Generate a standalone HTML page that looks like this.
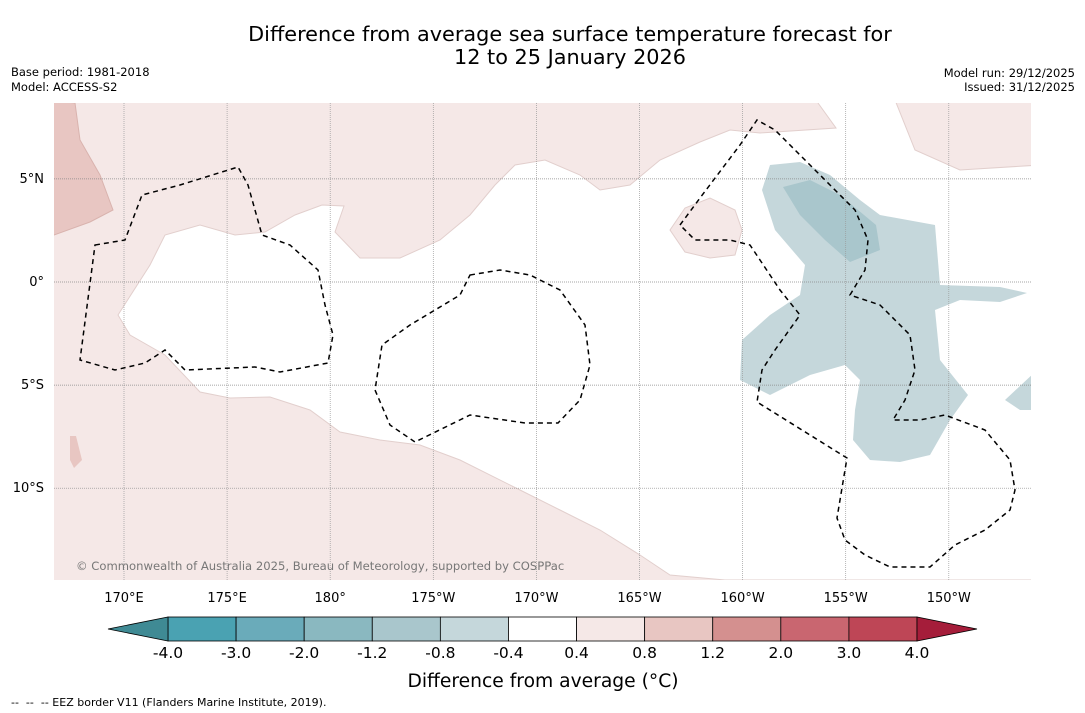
<!DOCTYPE html>
<html><head><meta charset="utf-8"><style>
body{margin:0;background:#fff;width:1085px;height:713px;overflow:hidden;font-family:"Liberation Sans","DejaVu Sans",sans-serif}
svg{position:absolute;left:0;top:0}
</style></head><body>
<svg width="1085" height="713" xmlns="http://www.w3.org/2000/svg" font-family="DejaVu Sans, Liberation Sans, sans-serif">
<text x="570" y="41" text-anchor="middle" font-size="20.8">Difference from average sea surface temperature forecast for</text>
<text x="570" y="64" text-anchor="middle" font-size="20.8">12 to 25 January 2026</text>
<text x="11" y="76" font-size="11.5">Base period: 1981-2018</text>
<text x="11" y="91" font-size="11.5">Model: ACCESS-S2</text>
<text x="1075" y="77" font-size="11.5" text-anchor="end">Model run: 29/12/2025</text>
<text x="1075" y="91" font-size="11.5" text-anchor="end">Issued: 31/12/2025</text>
<defs><clipPath id="mc"><rect x="54" y="103" width="977" height="477"/></clipPath></defs>
<g id="map" clip-path="url(#mc)"></g>
<g id="axes"></g>
<g id="cbar"></g>
<text x="543" y="687" text-anchor="middle" font-size="18.7">Difference from average (°C)</text>
<text x="11" y="706" font-size="11" style="white-space:pre">--  --  -- EEZ border V11 (Flanders Marine Institute, 2019).</text>
</svg>
<script>
const lonTicks=[170,175,180,185,190,195,200,205,210];
const lonLabels=["170°E","175°E","180°","175°W","170°W","165°W","160°W","155°W","150°W"];
const latTicks=[5,0,-5,-10];
const latLabels=["5°N","0°","5°S","10°S"];
const levels=["-4.0","-3.0","-2.0","-1.2","-0.8","-0.4","0.4","0.8","1.2","2.0","3.0","4.0"];
const levelColors=["#4aa2b2","#6aabba","#8ab8c0","#a9c6cc","#c5d7db","#ffffff","#f5e8e7","#e8c6c2","#d4908f","#c96670","#be4656"];
const NS="http://www.w3.org/2000/svg";
const X=lon=>124+(lon-170)*20.62, Y=lat=>282-lat*20.62;
const IX=px=>170+(px-124)/20.62, IY=py=>(282-py)/20.62;
const P=a=>a.map(([x,y])=>[IX(x),IY(y)]);
const whiteArea=P([[818,103],[836,128],[760,133],[730,130],[700,142],[660,160],[630,185],[600,190],[580,175],[545,160],[515,165],[495,185],[470,215],[440,240],[400,258],[360,258],[335,232],[344,206],[322,205],[295,215],[265,232],[235,235],[200,225],[165,235],[150,265],[118,315],[130,335],[165,355],[200,392],[230,398],[270,397],[310,410],[340,432],[380,440],[420,445],[460,460],[520,490],[560,510],[600,530],[640,555],[670,575],[725,580],[1040,580],[1040,165],[960,170],[915,150],[895,100],[818,100]]);
const pinkBlob=P([[670,230],[685,208],[710,198],[735,210],[742,230],[735,255],[710,258],[685,252]]);
const darkPink1=P([[50,100],[75,103],[80,140],[100,175],[113,210],[90,222],[54,235],[50,235]]);
const darkPink2=P([[70,436],[76,436],[82,460],[74,468],[70,460]]);
const blue1=P([[770,165],[800,162],[830,175],[860,200],[880,215],[935,225],[940,285],[1000,287],[1027,293],[1000,302],[960,300],[935,310],[940,360],[968,395],[950,420],[930,455],[900,462],[870,460],[853,440],[855,410],[860,380],[845,365],[810,375],[770,395],[740,380],[742,340],[770,315],[800,295],[805,265],[775,230],[762,190]]);
const blue2=P([[783,187],[810,180],[840,195],[876,225],[880,250],[850,262],[825,240],[800,215]]);
const blue3=P([[1035,372],[1005,400],[1020,410],[1035,410]]);
const eez1=P([[95,245],[125,240],[142,195],[180,185],[238,167],[248,185],[262,235],[290,245],[318,270],[325,305],[333,335],[328,363],[280,372],[255,367],[185,370],[165,350],[145,363],[115,370],[80,360],[95,245]]);
const eez2=P([[470,275],[500,270],[530,275],[560,290],[585,325],[590,365],[580,400],[558,423],[525,423],[470,415],[415,442],[390,425],[375,390],[382,345],[410,325],[460,295],[470,275]]);
const eez3=P([[680,225],[700,198],[740,145],[757,120],[775,130],[800,155],[830,185],[855,210],[868,240],[865,270],[850,295],[880,305],[910,335],[915,370],[905,400],[893,420],[920,420],[945,415],[985,430],[1010,460],[1015,490],[1010,510],[985,530],[955,545],[930,567],[890,567],[865,555],[845,540],[837,518],[847,458],[757,402],[762,370],[775,350],[800,315],[780,290],[760,260],[750,245],[730,240],[695,240],[680,225]]);
const map=document.getElementById('map');
function poly(pts,fill,stroke,name,dash){const p=document.createElementNS(NS,'polygon');
p.setAttribute('points',pts.map(([a,b])=>X(a).toFixed(1)+','+Y(b).toFixed(1)).join(' '));
p.setAttribute('fill',fill);p.setAttribute('stroke',stroke||'none');if(dash){p.setAttribute('stroke-dasharray',dash);p.setAttribute('stroke-width','1.5');}


map.appendChild(p);}
const bg=document.createElementNS(NS,'rect');bg.setAttribute('x',54);bg.setAttribute('y',103);bg.setAttribute('width',977);bg.setAttribute('height',477);bg.setAttribute('fill','#f5e8e7');


map.appendChild(bg);
poly(whiteArea,'#ffffff','#e2cfcd','neutral-anomaly-region');
poly(pinkBlob,'#f5e8e7','#e2cfcd','warm-anomaly-blob');
poly(darkPink1,'#e8c6c2','#d9b3ae','strong-warm-region');
poly(darkPink2,'#e8c6c2','none','strong-warm-spot');
poly(blue1,'#c5d7db','none','cool-anomaly-region');
poly(blue2,'#a9c6cc','none','stronger-cool-region');
poly(blue3,'#c5d7db','none','cool-anomaly-edge');
lonTicks.forEach(l=>{const g=document.createElementNS(NS,'line');g.setAttribute('x1',X(l));g.setAttribute('x2',X(l));g.setAttribute('y1',103);g.setAttribute('y2',580);g.setAttribute('stroke','#999');g.setAttribute('stroke-width','0.7');g.setAttribute('stroke-dasharray','1 1');


map.appendChild(g);});
latTicks.forEach(l=>{const g=document.createElementNS(NS,'line');g.setAttribute('y1',Y(l));g.setAttribute('y2',Y(l));g.setAttribute('x1',54);g.setAttribute('x2',1031);g.setAttribute('stroke','#888');g.setAttribute('stroke-width','0.7');g.setAttribute('stroke-dasharray','1 1');


map.appendChild(g);});
poly(eez1,'none','#000','eez-border-west','5 4');
poly(eez2,'none','#000','eez-border-central','5 4');
poly(eez3,'none','#000','eez-border-east','5 4');
const cp=document.createElementNS(NS,'text');cp.setAttribute('x',76);cp.setAttribute('y',570);cp.setAttribute('font-size','11.6');cp.setAttribute('fill','#777');cp.textContent='© Commonwealth of Australia 2025, Bureau of Meteorology, supported by COSPPac';


map.appendChild(cp);
const axes=document.getElementById('axes');
lonTicks.forEach((l,i)=>{const t=document.createElementNS(NS,'text');t.setAttribute('x',X(l));t.setAttribute('y',602);t.setAttribute('text-anchor','middle');t.setAttribute('font-size','13');t.textContent=lonLabels[i];


axes.appendChild(t);});
latTicks.forEach((l,i)=>{const t=document.createElementNS(NS,'text');t.setAttribute('x',44);t.setAttribute('y',Y(l)+4);t.setAttribute('text-anchor','end');t.setAttribute('font-size','13');t.textContent=latLabels[i];


axes.appendChild(t);});
const cb=document.getElementById('cbar');const x0=168,w=(917-168)/levelColors.length,y0=617,h=24;
levelColors.forEach((c,i)=>{const r=document.createElementNS(NS,'rect');r.setAttribute('x',x0+i*w);r.setAttribute('y',y0);r.setAttribute('width',w);r.setAttribute('height',h);r.setAttribute('fill',c);r.setAttribute('stroke','#000');r.setAttribute('stroke-width','0.8');


cb.appendChild(r);});
[[`${x0},${y0} ${x0},${y0+h} 108,${y0+h/2}`,'#3f8a94'],[`917,${y0} 917,${y0+h} 977,${y0+h/2}`,'#a51d3a']].forEach(([pts,c])=>{const p=document.createElementNS(NS,'polygon');p.setAttribute('points',pts);p.setAttribute('fill',c);p.setAttribute('stroke','#000');p.setAttribute('stroke-width','0.8');


cb.appendChild(p);});
levels.forEach((s,i)=>{const t=document.createElementNS(NS,'text');t.setAttribute('x',x0+i*w);t.setAttribute('y',658);t.setAttribute('text-anchor','middle');t.setAttribute('font-size','15.5');t.textContent=s;


cb.appendChild(t);});
</script>
</body></html>
